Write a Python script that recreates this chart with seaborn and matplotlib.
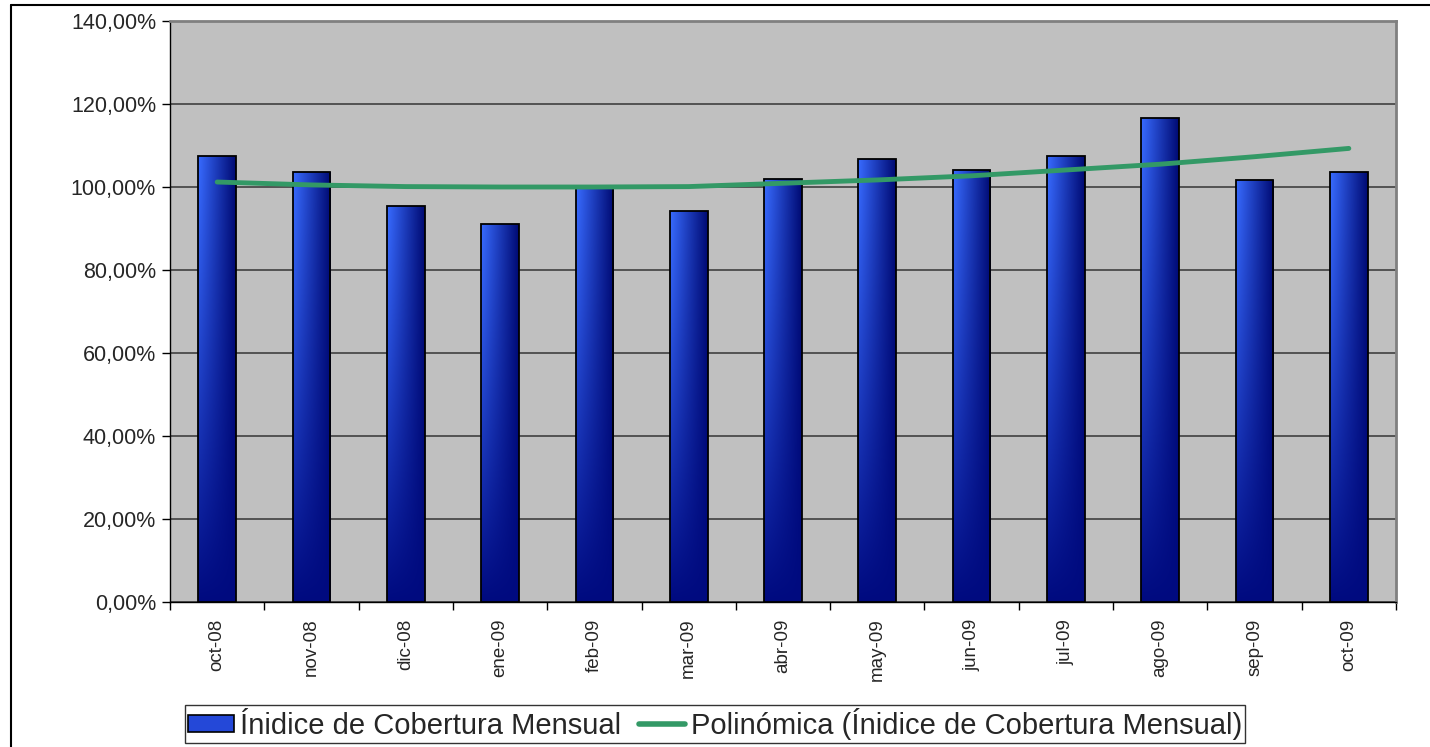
import matplotlib
matplotlib.use('Agg')
import matplotlib.pyplot as plt
from matplotlib.lines import Line2D
from matplotlib.patches import Patch
from matplotlib.ticker import FuncFormatter, FixedLocator
import numpy as np
import pandas as pd
import seaborn as sns

# datos
meses = ['oct-08', 'nov-08', 'dic-08', 'ene-09', 'feb-09', 'mar-09', 'abr-09',
         'may-09', 'jun-09', 'jul-09', 'ago-09', 'sep-09', 'oct-09']
indice = [107.5, 103.7, 95.5, 91.2, 100.2, 94.3, 102.0,
          106.7, 104.0, 107.5, 116.7, 101.7, 103.6]
tendencia = [101.2, 100.5, 100.1, 100.0, 100.0, 100.1, 100.9,
             101.7, 102.7, 104.1, 105.5, 107.3, 109.3]

df = pd.DataFrame({'mes': meses, 'indice': indice, 'tendencia': tendencia})

sns.set_style('white')
plt.rcParams['font.family'] = ['Liberation Sans', 'DejaVu Sans']

fig = plt.figure(figsize=(14.3, 7.47), dpi=100)
ax = fig.add_axes([170 / 1430, 1 - 602 / 747, 1226 / 1430, 581 / 747])
ax.set_facecolor('#C0C0C0')

sns.barplot(data=df, x='mes', y='indice', ax=ax, width=0.4,
            color='#2448D8', edgecolor='black', linewidth=1.3, zorder=3)

# degradado en las barras
h_grad = np.linspace(0, 1, 64)
v_grad = np.linspace(0, 1, 128)[:, None]
top_l = np.array([0.22, 0.42, 1.0])
top_r = np.array([0.0, 0.04, 0.45])
bot_c = np.array([0.0, 0.04, 0.5])
top = top_l[None, :] * (1 - h_grad[:, None]) + top_r[None, :] * h_grad[:, None]
img = top[None, :, :] * (1 - v_grad[..., None] ** 1.2) + bot_c[None, None, :] * v_grad[..., None] ** 1.2
for bar in ax.patches:
    x0 = bar.get_x()
    w = bar.get_width()
    hgt = bar.get_height()
    im = ax.imshow(img, extent=[x0, x0 + w, 0, hgt], aspect='auto',
                   origin='upper', zorder=3, interpolation='bilinear')
    im.set_clip_path(bar)
    bar.set_facecolor('none')
    bar.set_zorder(4)

sns.lineplot(data=df, x='mes', y='tendencia', ax=ax, color='#339966',
             linewidth=3.5, zorder=5, sort=False)

ax.set_xlim(-0.5, 12.5)
ax.set_ylim(0, 140)
ax.set_aspect('auto')
ax.set_yticks(np.arange(0, 141, 20))
ax.yaxis.set_major_formatter(FuncFormatter(lambda v, p: f'{v:.2f}%'.replace('.', ',')))
ax.yaxis.grid(True, color='#404040', linewidth=1.2, zorder=1)
ax.set_axisbelow(True)

ax.xaxis.set_major_locator(FixedLocator(np.arange(-0.5, 13, 1)))
ax.xaxis.set_minor_locator(FixedLocator(np.arange(0, 13, 1)))
ax.set_xticklabels([], minor=False)
ax.set_xticklabels(meses, minor=True, rotation=90, fontsize=13.5)
ax.tick_params(axis='x', which='major', length=6, width=1, color='black', direction='out', bottom=True)
ax.tick_params(axis='x', which='minor', length=0, pad=12, bottom=True)
ax.tick_params(axis='y', length=6, width=1, color='black', direction='out', labelsize=15.5, left=True, pad=4)
ax.set_xlabel('')
ax.set_ylabel('')

for s in ['left', 'bottom']:
    ax.spines[s].set_color('black')
    ax.spines[s].set_linewidth(1)
for s in ['top', 'right']:
    ax.spines[s].set_color('#808080')
    ax.spines[s].set_linewidth(2)

handles = [Patch(facecolor='#2448D8', edgecolor='black', linewidth=1.2),
           Line2D([0], [0], color='#339966', linewidth=4)]
labels = ['Ínidice de Cobertura Mensual', 'Polinómica (Ínidice de Cobertura Mensual)']
leg = fig.legend(handles, labels, loc='center', bbox_to_anchor=(715 / 1430, 1 - 724 / 747),
                 ncol=2, frameon=True, fancybox=False, fontsize=21, handlelength=1.6,
                 handleheight=0.55, handletextpad=0.2, columnspacing=0.6, borderpad=0.1,
                 borderaxespad=0)
leg.get_frame().set_edgecolor('black')
leg.get_frame().set_linewidth(1)

# borde exterior
fig.add_artist(Line2D([11 / 1430, 11 / 1430], [0, 1 - 5 / 747], color='black', linewidth=1.5))
fig.add_artist(Line2D([11 / 1430, 1], [1 - 5 / 747, 1 - 5 / 747], color='black', linewidth=1.5))

fig.savefig('out.png', dpi=100)
